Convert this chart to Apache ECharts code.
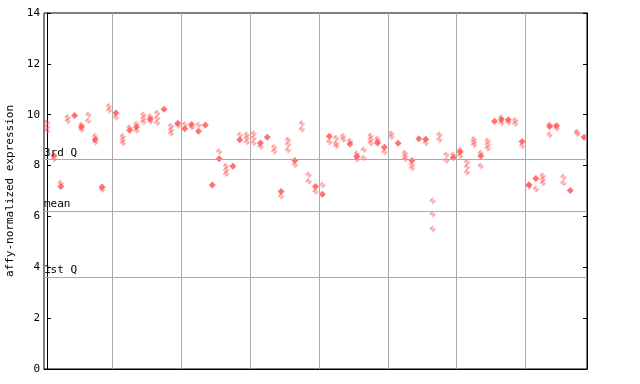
<!DOCTYPE html>
<html>
<head>
<meta charset="utf-8">
<script src="https://cdn.jsdelivr.net/npm/echarts@6/dist/echarts.min.js"></script>
<style>html,body{margin:0;padding:0;background:#fff}#c{width:640px;height:384px}</style>
</head>
<body>
<div id="c"></div>
<script>
// One entry per sample column (79 columns, 8 groups)
const solidVals = [null,8.39,7.18,null,9.97,9.52,null,9.03,7.16,null,
  10.07,null,9.39,9.52,null,9.83,null,10.21,null,9.66,
  9.45,9.62,9.35,9.6,7.24,8.27,null,7.97,9.02,null,
  null,8.89,9.11,null,6.98,null,8.2,null,null,7.18,
  6.87,9.15,null,null,8.85,8.36,null,null,8.89,8.72,
  null,8.88,null,8.2,9.05,9.04,null,null,null,8.32,
  8.53,null,null,8.38,null,9.74,9.8,9.8,null,8.95,
  7.25,7.49,null,9.54,9.57,null,7.02,null,9.11];
const hatchVals = [[9.69,9.53,9.37],[8.26],[7.31],[9.9,9.75],[],[9.6,9.42],[10.0,9.76],[9.15,8.92],[7.06],[10.33,10.18],
  [9.89],[9.15,9.02,8.89],[9.5],[9.63,9.38],[10.0,9.85,9.71],[9.93,9.74],[10.07,9.87,9.68],[],[9.56,9.41,9.27],[9.58],
  [9.62],[9.51],[9.6],[],[],[8.55],[7.98,7.83,7.68],[],[9.21],[9.21,9.08,8.93],
  [9.26,9.08,8.9],[8.75],[],[8.72,8.56],[6.79],[9.02,8.84,8.61],[8.03],[9.65,9.43],[7.64,7.38],[6.98],
  [7.24],[8.93],[9.08,8.88,8.77],[9.15,9.03],[8.97],[8.47,8.25],[8.62,8.3],[9.17,9.03,8.89],[9.05,8.96],[8.53],
  [9.26,9.13],[],[8.49,8.37,8.26],[8.04,7.9],[],[8.89],[6.61,6.09,5.51],[9.21,9.02],[8.43,8.2],[8.43],
  [8.6,8.38],[8.14,7.95,7.74],[9.04,8.93,8.82],[8.49,7.98],[8.98,8.83,8.68],[],[9.89,9.67],[9.7],[9.78,9.65],[8.78],
  [7.18],[7.08],[7.6,7.46,7.31],[9.61,9.21],[9.47],[7.55,7.31],[],[9.33,9.25],[]];
const groupBounds = [9.5,19.5,29.5,39.5,49.5,59.5,69.5];
const refLines = [{name:'3rd Q', value:8.23},{name:'mean', value:6.21},{name:'1st Q', value:3.62}];
const yTicks = [0,2,4,6,8,10,12,14];

const solidData = [];
solidVals.forEach((v,i)=>{ if(v!==null) solidData.push([i,v]); });
const hatchData = [];
hatchVals.forEach((arr,i)=>arr.forEach(v=>hatchData.push([i,v])));

// checker pattern
const pc = document.createElement('canvas'); pc.width=2; pc.height=2;
const pctx = pc.getContext('2d');
pctx.fillStyle='#ff5050'; pctx.fillRect(0,0,1,1); pctx.fillRect(1,1,1,1);

const mono = 'DejaVu Sans Mono';
const chart = echarts.init(document.getElementById('c'), null, {renderer:'canvas'});
chart.setOption({
  animation:false,
  grid:{left:44,right:53,top:13,bottom:15,containLabel:false,outerBoundsMode:'none',show:true,borderColor:'#000',borderWidth:1,backgroundColor:'transparent'},
  xAxis:{type:'value',min:-0.436,max:78.43,axisLine:{show:true,lineStyle:{color:'#000'}},axisTick:{show:false},axisLabel:{show:false},splitLine:{show:false}},
  yAxis:[{type:'value',min:0,max:14,interval:2,name:'affy-normalized expression',nameLocation:'middle',nameGap:25,
    nameTextStyle:{fontFamily:mono,fontSize:11,color:'#000'},
    axisLine:{show:true,lineStyle:{color:'#000'}},axisTick:{show:true,inside:true,length:4,lineStyle:{color:'#000'}},
    axisLabel:{fontFamily:mono,fontSize:11,color:'#000',margin:4,formatter:v=>yTicks.includes(v)?String(v):''},splitLine:{show:false}},
   {type:'value',min:0,max:14,interval:2,position:'right',axisLine:{show:true,lineStyle:{color:'#000'}},
    axisTick:{show:true,inside:true,length:4,lineStyle:{color:'#000'}},axisLabel:{show:false},splitLine:{show:false}}],
  series:[
    {type:'scatter',data:[],silent:true,
     markLine:{silent:true,symbol:'none',animation:false,
       lineStyle:{color:'#aaaaaa',width:1,type:'solid'},
       data:groupBounds.map(x=>({xAxis:x,label:{show:false}})).concat(refLines.map(r=>({yAxis:r.value,name:r.name,
         label:{show:true,position:'insideStartTop',formatter:r.name,color:'#000',fontFamily:mono,fontSize:11,distance:[0,1],padding:0}})))}},
    {type:'scatter',data:hatchData,symbol:'diamond',symbolSize:7,itemStyle:{color:{image:pc,repeat:'repeat'}}},
    {type:'scatter',data:solidData,symbol:'diamond',symbolSize:7,itemStyle:{color:'#ff5050'}}
  ]
});
</script>
</body>
</html>
